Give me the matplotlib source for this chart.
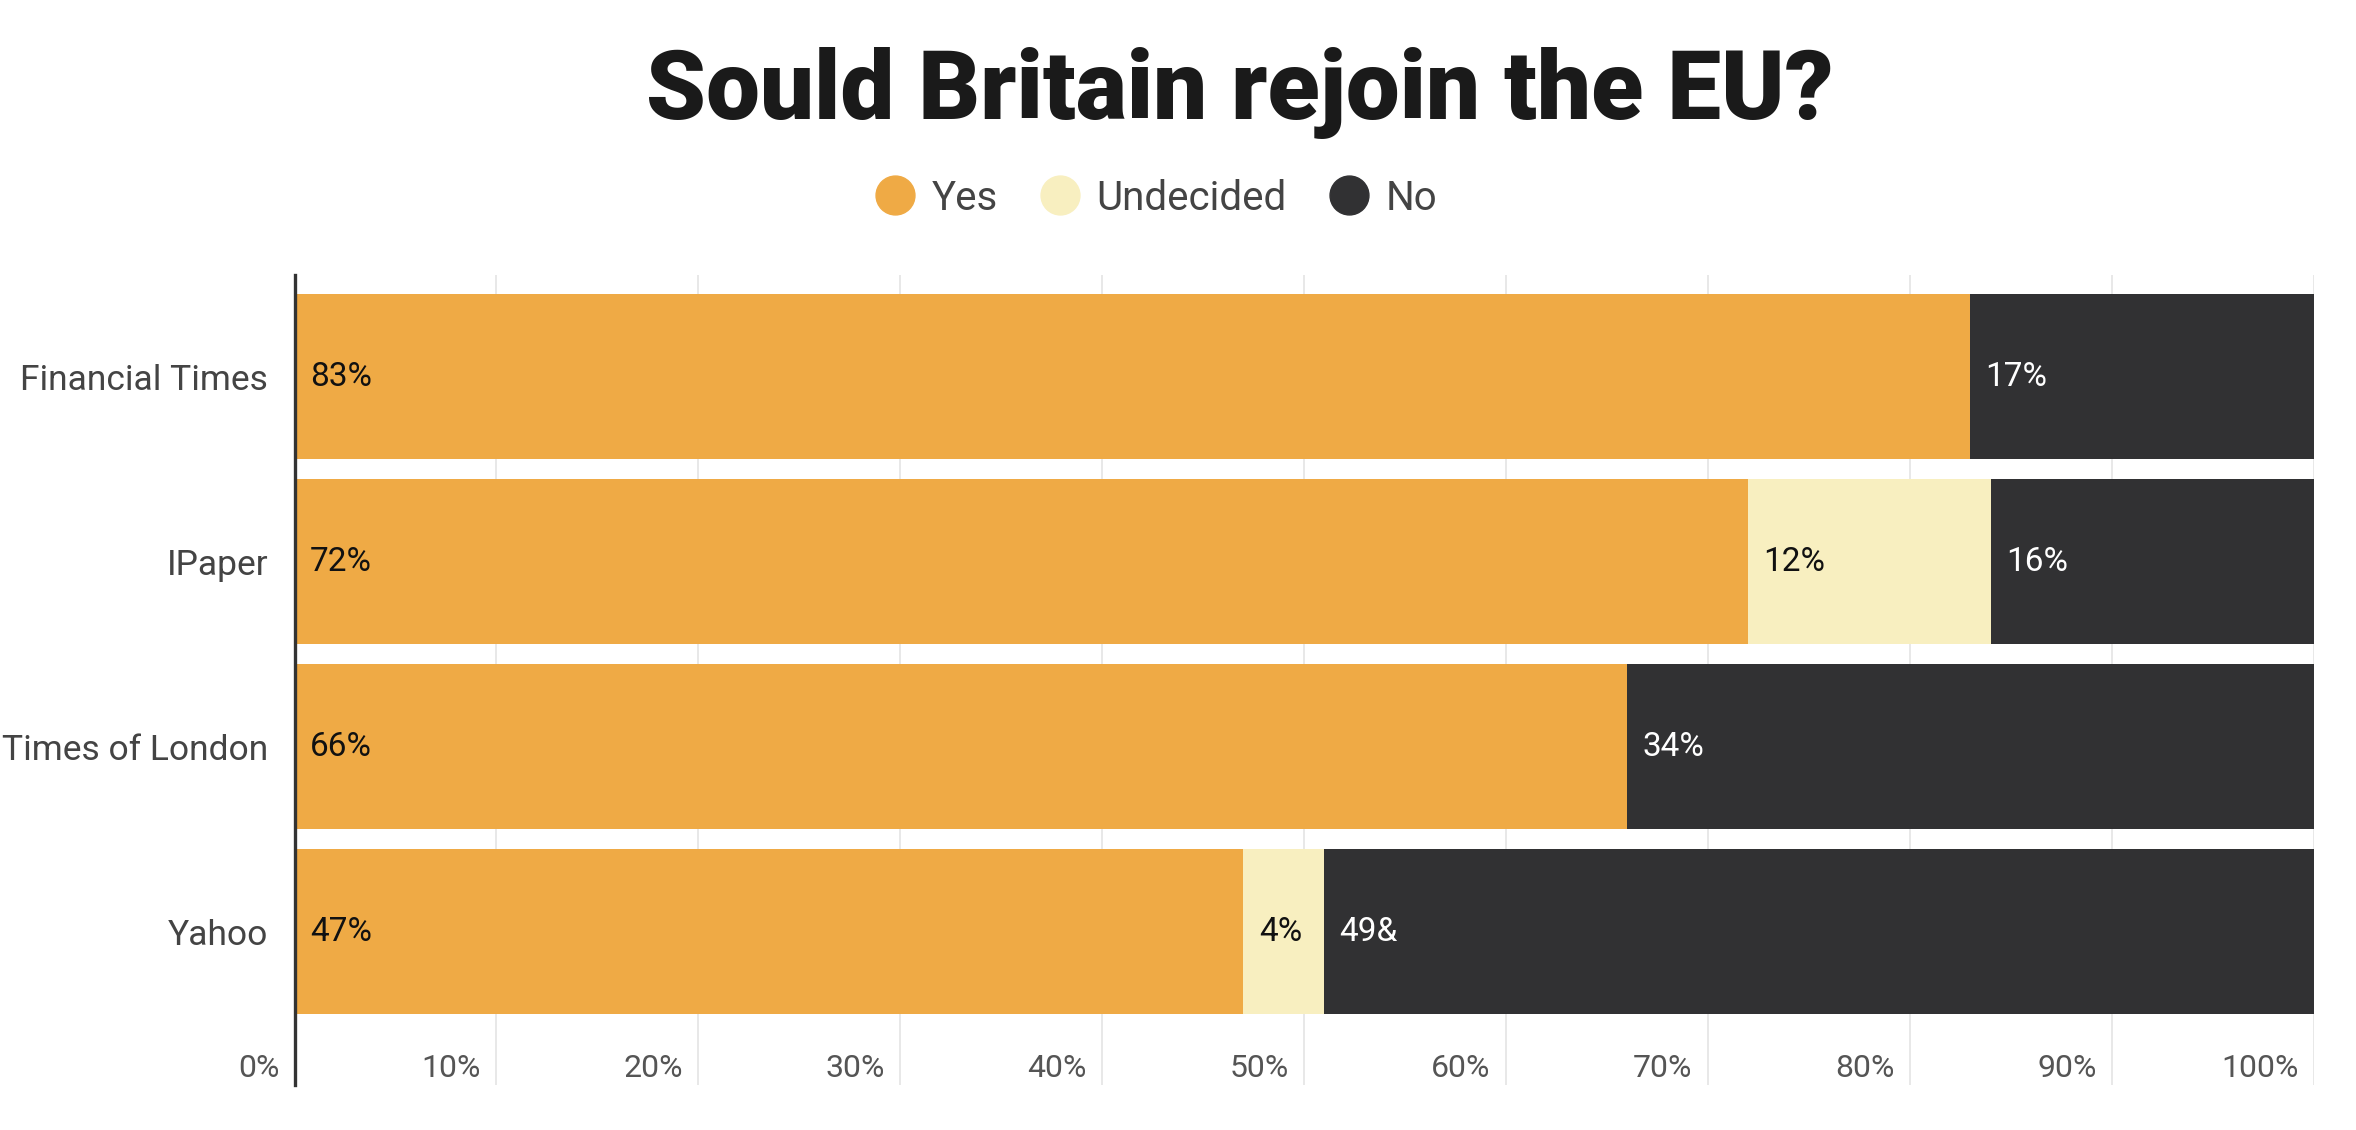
import numpy as np
import matplotlib
matplotlib.use("Agg")
import matplotlib.pyplot as plt
from matplotlib.lines import Line2D
from matplotlib.transforms import offset_copy

# data
outlets = ["Financial Times", "IPaper", "Times of London", "Yahoo"]
yes = [83, 72, 66, 47]
undecided = [0, 12, 0, 4]
no = [17, 16, 34, 49]
yes_labels = ["83%", "72%", "66%", "47%"]
undecided_labels = ["", "12%", "", "4%"]
no_labels = ["17%", "16%", "34%", "49&"]
series_names = ["Yes", "Undecided", "No"]
colors = ["#EFAA45", "#F8EFC0", "#313133"]
text_colors = ["#111111", "#111111", "#FFFFFF"]
xticks = list(range(0, 101, 10))

plt.rcParams["font.family"] = ["Roboto", "DejaVu Sans"]

fig = plt.figure(figsize=(23.56, 11.30), dpi=100)
ax = fig.add_axes([0.125, 0.040, 0.857, 0.717])

y = np.arange(len(outlets))
left = np.zeros(len(outlets))
values = [yes, undecided, no]
labels = [yes_labels, undecided_labels, no_labels]
for vals, labs, col, tcol in zip(values, labels, colors, text_colors):
    vals = np.array(vals, dtype=float)
    ax.barh(y, vals, left=left, height=0.894, color=col, zorder=2)
    for yi, (l, v, lab) in enumerate(zip(left, vals, labs)):
        if v > 0 and lab:
            tr = offset_copy(ax.transData, fig=fig, x=11, y=0, units="points")
            ax.text(l, yi, lab, transform=tr, ha="left", va="center",
                    fontsize=24, color=tcol, zorder=3)
    left = left + vals

ax.set_xlim(0, 100)
ax.set_ylim(3.829, -0.553)

# grid
for t in xticks[1:]:
    ax.axvline(t, color="#E4E4E4", lw=1.2, zorder=1)

# x tick labels drawn inside the axes, right aligned to grid lines
ax.set_xticks([])
for t in xticks:
    tr = offset_copy(ax.transData, fig=fig, x=-11, y=0, units="points")
    ax.text(t, 3.74, f"{t}%", transform=tr, ha="right", va="center",
            fontsize=23, color="#555555")

ax.set_yticks(y)
ax.set_yticklabels(outlets, fontsize=25.5, color="#444444")
ax.tick_params(axis="y", length=0, pad=19)

for s in ["top", "right", "bottom"]:
    ax.spines[s].set_visible(False)
ax.spines["left"].set_color("#333333")
ax.spines["left"].set_linewidth(2.4)
ax.spines["left"].set_zorder(4)

fig.text(0.526, 1 - 93 / 1130, "Sould Britain rejoin the EU?", ha="center",
         va="center", fontsize=69, fontweight="heavy", color="#1A1A1A")

handles = [Line2D([], [], marker="o", ls="", markersize=28, markerfacecolor=c,
                  markeredgecolor=c) for c in colors]
fig.legend(handles, series_names, ncol=3, loc="center",
           bbox_to_anchor=(0.4865, 1 - 198 / 1130), frameon=False,
           fontsize=29, handletextpad=-0.1, columnspacing=0.55,
           labelcolor="#444444")

fig.savefig("out.png", dpi=100)
